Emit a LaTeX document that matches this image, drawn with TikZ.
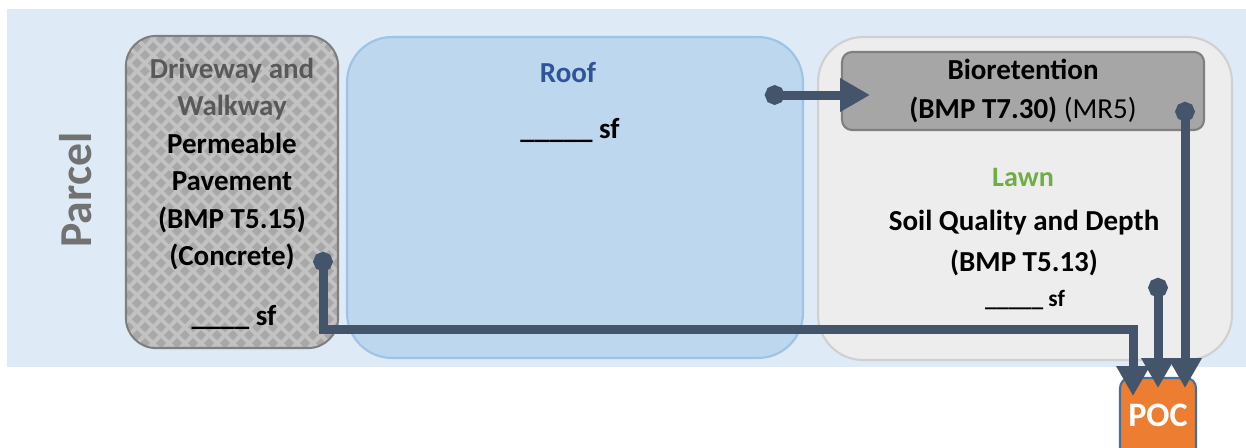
\documentclass[tikz,border=0pt]{standalone}
\usepackage{fontspec}
\setmainfont{Carlito}
\usetikzlibrary{arrows.meta}

\definecolor{parcelbg}{HTML}{DEEAF6}
\definecolor{roofblue}{HTML}{BDD7EE}
\definecolor{roofline}{HTML}{9DC3E6}
\definecolor{rooftext}{HTML}{2F5597}
\definecolor{lawngray}{HTML}{EDEDED}
\definecolor{lawnline}{HTML}{D0D0D0}
\definecolor{lawngreen}{HTML}{70AD47}
\definecolor{paveline}{HTML}{7F7F7F}
\definecolor{pavefill}{HTML}{C2C2C2}
\definecolor{pavedot}{HTML}{A8A8A8}
\definecolor{pavetext}{HTML}{595959}
\definecolor{biofill}{HTML}{A6A6A6}
\definecolor{flowline}{HTML}{44546A}
\definecolor{pocorange}{HTML}{ED7D31}
\definecolor{pocline}{HTML}{41719C}

\begin{document}
\begin{tikzpicture}[x=0.02cm, y=-0.02cm,
		area/.style={rectangle, line width=1.2pt, inner sep=0pt},
		label/.style={font=\bfseries\fontsize{16.5}{21.3}\selectfont, align=center},
		flow/.style={line width=0.18cm, draw=flowline, line join=miter,
			{Circle[length=11pt]}-{Triangle[width=18pt,length=17pt]}}]

		\clip (0,0) rectangle (1246,447);
		\fill[parcelbg] (7,9) rectangle (1246,367);

		\draw
		(76,190) node [rotate=90, font=\bfseries\fontsize{26}{30}\selectfont, text=pavetext!85] (parcel) {Parcel}
		(232,192) node [area, fill=pavefill, rounded corners=0.6cm, minimum width=4.2cm, minimum height=6.2cm] (drive) {};

		% checker pattern of the pavement
		\begin{scope}
			\clip[rounded corners=0.6cm] (drive.south west) rectangle (drive.north east);
			\foreach \i in {0,...,13}
				\foreach \j in {0,...,19} {
					\fill[pavedot] (129+16*\i,39+16*\j) +(-5,0) -- +(0,-5) -- +(5,0) -- +(0,5) -- cycle;
					\fill[pavedot] (137+16*\i,47+16*\j) +(-5,0) -- +(0,-5) -- +(5,0) -- +(0,5) -- cycle;
				}
		\end{scope}
		\draw[line width=1.2pt, paveline, rounded corners=0.6cm] (drive.south west) rectangle (drive.north east);

		\draw
		(232,164) node [label] (drivetext) {\textcolor{pavetext}{Driveway and}\\\textcolor{pavetext}{Walkway}\\Permeable\\Pavement\\(BMP T5.15)\\(Concrete)}
		(234,317) node [label] (drivearea) {\_\_\_\_ sf};

		\draw
		(575,197.5) node [area, draw=roofline, fill=roofblue, rounded corners=0.9cm, minimum width=9.12cm, minimum height=6.42cm] (roof) {}
		(568,73) node [label, text=rooftext] (rooftitle) {Roof}
		(570,130) node [label] (roofarea) {\_\_\_\_\_ sf};

		\draw
		(1025,198.5) node [area, draw=lawnline, fill=lawngray, rounded corners=0.9cm, minimum width=8.28cm, minimum height=6.46cm] (lawn) {}
		(1023,91) node [area, draw=paveline, fill=biofill, rounded corners=0.2cm, minimum width=7.24cm, minimum height=1.56cm, label, font=\bfseries\fontsize{16.5}{22.7}\selectfont] (bio) {Bioretention\\(BMP T7.30) {\mdseries(MR5)}}
		(1023,177) node [label, text=lawngreen, font=\bfseries\fontsize{16}{18}\selectfont] (lawntitle) {Lawn}
		(1024,243) node [label, font=\bfseries\fontsize{16.5}{23.8}\selectfont] (lawntext) {Soil Quality and Depth\\(BMP T5.13)}
		(1025,300) node [label, font=\bfseries\fontsize{13.3}{15}\selectfont] (lawnarea) {\_\_\_\_\_ sf};

		\draw
		(1158,419) node [area, draw=pocline, fill=pocorange, rounded corners=0.2cm, minimum width=1.52cm, minimum height=1.64cm] (poc) {}
		(1158,415) node [label, text=white, font=\bfseries\fontsize{19.5}{22}\selectfont] (poclabel) {POC};

		\coordinate (roofout) at (765,95);
		\coordinate (bioin) at (870,95);
		\coordinate (driveout) at (323,252);
		\coordinate (pocturn) at (1133,329);
		\coordinate (pocin1) at (1133,396);
		\coordinate (lawnout) at (1158,278);
		\coordinate (pocin2) at (1158,388);
		\coordinate (bioout) at (1185,102);
		\coordinate (pocin3) at (1185,388);

		\draw[flow] (roofout) -- (bioin);
		\draw[flow] (driveout) |- (pocturn) -- (pocin1);
		\draw[flow] (lawnout) -- (pocin2);
		\draw[flow] (bioout) -- (pocin3);
	\end{tikzpicture}
\end{document}
